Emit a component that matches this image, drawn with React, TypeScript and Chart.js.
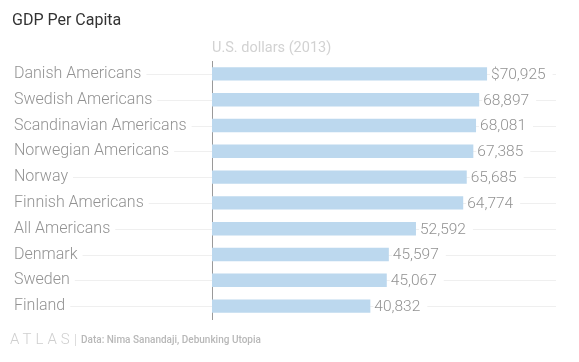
import React, { useEffect, useRef } from "react";
import { Chart, registerables } from "chart.js";

Chart.register(...registerables);

const chartTitle = "GDP Per Capita";
const unitLabel = "U.S. dollars (2013)";
const categories = [
  "Danish Americans",
  "Swedish Americans",
  "Scandinavian Americans",
  "Norwegian Americans",
  "Norway",
  "Finnish Americans",
  "All Americans",
  "Denmark",
  "Sweden",
  "Finland",
];
const values = [70925, 68897, 68081, 67385, 65685, 64774, 52592, 45597, 45067, 40832];
const valueLabels = ["$70,925", "68,897", "68,081", "67,385", "65,685", "64,774", "52,592", "45,597", "45,067", "40,832"];
const footerBrand = "ATLAS";
const footerSource = "Data: Nima Sanandaji, Debunking Utopia";

const FONT = "Roboto, 'Noto Sans', sans-serif";

export default function App() {
  const ref = useRef<HTMLCanvasElement>(null);

  useEffect(() => {
    if (!ref.current) return;

    const gridPlugin = {
      id: "rowLines",
      beforeDraw(chart: any) {
        const { ctx, chartArea } = chart;
        const y = chart.scales.y;
        ctx.save();
        ctx.strokeStyle = "#efefef";
        ctx.lineWidth = 1;
        categories.forEach((_, i) => {
          const py = Math.round(y.getPixelForTick(i)) + 0.5;
          ctx.beginPath();
          ctx.moveTo(14, py);
          ctx.lineTo(chartArea.right, py);
          ctx.stroke();
        });
        ctx.restore();
      },
    };

    const labelPlugin = {
      id: "valueLabels",
      afterDatasetsDraw(chart: any) {
        const { ctx } = chart;
        const meta = chart.getDatasetMeta(0);
        ctx.save();
        ctx.font = `300 15.5px ${FONT}`;
        ctx.textBaseline = "middle";
        meta.data.forEach((bar: any, i: number) => {
          const text = valueLabels[i];
          const x = bar.x + 4;
          const w = ctx.measureText(text).width;
          ctx.fillStyle = "#ffffff";
          ctx.fillRect(x - 1, bar.y - 8, w + 8, 16);
          ctx.fillStyle = "#929292";
          ctx.fillText(text, x, bar.y + 1);
        });
        ctx.restore();
      },
      afterDraw(chart: any) {
        const { ctx, chartArea } = chart;
        ctx.save();
        ctx.textBaseline = "middle";
        ctx.fillStyle = "#333333";
        ctx.font = `400 16px ${FONT}`;
        ctx.fillText(chartTitle, 12, 21);
        ctx.fillStyle = "#d2d2d2";
        ctx.font = `400 14.5px ${FONT}`;
        ctx.fillText(unitLabel, chartArea.left, 48);
        // footer
        ctx.fillStyle = "#cfcfcf";
        ctx.font = `300 15px ${FONT}`;
        (ctx as any).letterSpacing = "4px";
        ctx.fillText(footerBrand, 10, 340);
        (ctx as any).letterSpacing = "0px";
        ctx.fillStyle = "#dddddd";
        ctx.fillRect(75, 334, 1, 12);
        ctx.fillStyle = "#b8b8b8";
        ctx.font = `500 10px ${FONT}`;
        ctx.fillText(footerSource, 81, 340);
        ctx.restore();
      },
    };

    const chart = new Chart(ref.current, {
      type: "bar",
      data: {
        labels: categories,
        datasets: [
          {
            data: values,
            backgroundColor: "#bcd8ee",
            borderWidth: 0,
            categoryPercentage: 1,
            barPercentage: 0.52,
          },
        ],
      },
      options: {
        indexAxis: "y",
        responsive: false,
        animation: false,
        layout: { padding: { top: 61, bottom: 43, left: 14, right: 23 } },
        plugins: {
          legend: { display: false },
          tooltip: { enabled: false },
          title: { display: false },
        },
        scales: {
          x: {
            display: false,
            min: 0,
            max: 88700,
          },
          y: {
            afterFit(scale: any) {
              scale.width = 198;
            },
            grid: { display: false },
            border: { display: true, color: "#9a9a9a", width: 1 },
            ticks: {
              crossAlign: "far",
              color: "#929292",
              font: { family: FONT, size: 16, weight: "300" },
              showLabelBackdrop: true,
              backdropColor: "#ffffff",
              backdropPadding: { left: 0, right: 5, top: 0, bottom: 0 },
            },
          },
        },
      },
      plugins: [gridPlugin, labelPlugin],
    } as any);

    return () => chart.destroy();
  }, []);

  return (
    <div style={{ position: "absolute", left: 0, top: 0, width: 579, height: 362, background: "#fff" }}>
      <canvas ref={ref} width={579} height={362} />
    </div>
  );
}
